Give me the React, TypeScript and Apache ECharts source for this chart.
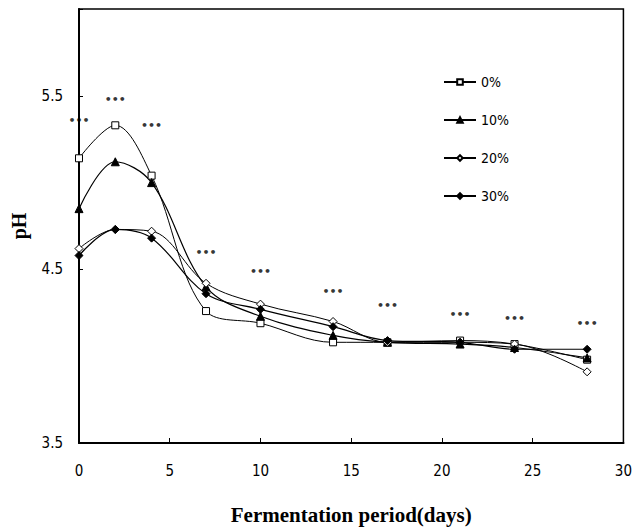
import React, { useEffect, useRef } from "react";
import * as echarts from "echarts";

const days = [0, 2, 4, 7, 10, 14, 17, 21, 24, 28];
const ph0 = [5.14, 5.33, 5.04, 4.26, 4.19, 4.08, 4.08, 4.09, 4.07, 3.98];
const ph10 = [4.85, 5.12, 5.0, 4.4, 4.23, 4.12, 4.08, 4.07, 4.05, 3.99];
const ph20 = [4.62, 4.73, 4.72, 4.42, 4.3, 4.2, 4.08, 4.08, 4.07, 3.91];
const ph30 = [4.58, 4.73, 4.68, 4.36, 4.27, 4.17, 4.09, 4.08, 4.04, 4.04];
const sigY = [5.36, 5.48, 5.33, 4.6, 4.49, 4.37, 4.29, 4.24, 4.22, 4.19];
const seriesNames = ["0%", "10%", "20%", "30%"];
const sigLabel = "•••";

const numFont = "'DejaVu Sans Condensed', 'Liberation Sans Narrow', 'Liberation Sans', sans-serif";
const titleFont = "'Liberation Serif', 'DejaVu Serif', serif";

function pairs(vals: number[]) {
  return days.map((d, i) => [d, vals[i]]);
}

export default function App() {
  const ref = useRef<HTMLDivElement>(null);
  useEffect(() => {
    if (!ref.current) return;
    const chart = echarts.init(ref.current, undefined, { renderer: "svg" });
    const lineBase = (name: string, vals: number[], symbol: string, size: number, fill: string, width: number) => ({
      name,
      type: "line",
      data: pairs(vals),
      smooth: 0.35,
      symbol,
      symbolSize: size,
      showAllSymbol: true,
      lineStyle: { color: "#000", width },
      itemStyle: { color: fill, borderColor: "#000", borderWidth: 1 },
      z: 3,
    });
    chart.setOption({
      animation: false,
      backgroundColor: "#fff",
      grid: {
        left: 79,
        right: 8,
        top: 9,
        bottom: 87,
        show: true,
        borderColor: "#000",
        borderWidth: 1.5,
      },
      legend: {
        data: seriesNames,
        orient: "vertical",
        left: 443,
        top: 75,
        padding: 0,
        itemWidth: 32,
        itemHeight: 7,
        itemGap: 24,
        textStyle: { fontFamily: numFont, fontSize: 14, color: "#000" },
      },
      xAxis: {
        type: "value",
        min: 0,
        max: 30,
        interval: 5,
        name: "Fermentation period(days)",
        nameLocation: "middle",
        nameGap: 61,
        nameTextStyle: { fontFamily: titleFont, fontSize: 21, fontWeight: "bold", color: "#000" },
        axisLine: { lineStyle: { color: "#000", width: 2 } },
        axisTick: { inside: true, length: 5, lineStyle: { color: "#000", width: 1 } },
        axisLabel: { margin: 20, fontFamily: numFont, fontSize: 15, color: "#000" },
        splitLine: { show: false },
      },
      yAxis: {
        type: "value",
        min: 3.5,
        max: 6,
        interval: 1,
        name: "pH",
        nameLocation: "middle",
        nameGap: 50,
        nameRotate: 90,
        nameTextStyle: { fontFamily: titleFont, fontSize: 20, fontWeight: "bold", color: "#000" },
        axisLine: { show: true, lineStyle: { color: "#000", width: 2 } },
        axisTick: { show: true, inside: true, length: 4, lineStyle: { color: "#000", width: 1 } },
        axisLabel: {
          margin: 16,
          fontFamily: numFont,
          fontSize: 15,
          color: "#000",
          formatter: (v: number) => (Math.abs(v - 6) < 1e-6 ? "" : v.toFixed(1)),
        },
        splitLine: { show: false },
      },
      series: [
        lineBase(seriesNames[0], ph0, "rect", 7, "#fff", 1),
        lineBase(seriesNames[1], ph10, "triangle", 8, "#000", 1.2),
        lineBase(seriesNames[2], ph20, "diamond", 8, "#fff", 1),
        lineBase(seriesNames[3], ph30, "diamond", 8, "#000", 1.2),
        {
          name: "sig",
          type: "scatter",
          data: pairs(sigY),
          symbolSize: 1,
          itemStyle: { color: "rgba(0,0,0,0)" },
          label: {
            show: true,
            position: "inside",
            formatter: () => sigLabel,
            fontSize: 11,
            fontWeight: "bold",
            color: "#000",
            fontFamily: "'DejaVu Sans', sans-serif",
          },
          z: 2,
        },
      ],
    });
    return () => chart.dispose();
  }, []);
  return (
    <div
      ref={ref}
      style={{ position: "fixed", left: 0, top: 0, width: 635, height: 530, background: "#fff" }}
    />
  );
}
